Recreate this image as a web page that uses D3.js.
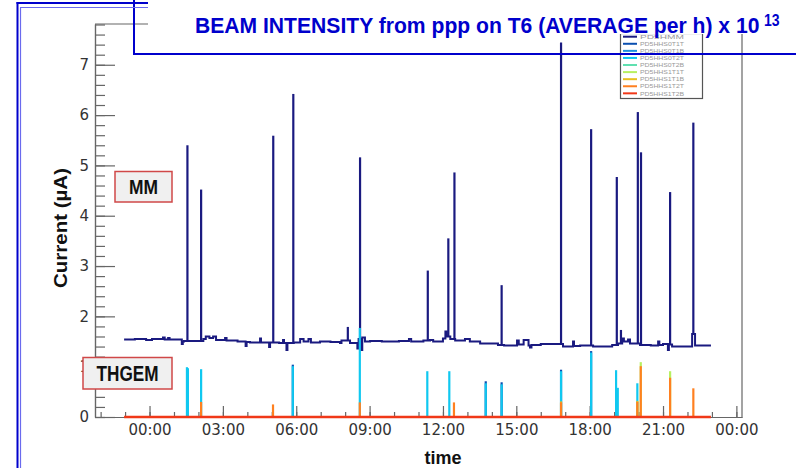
<!DOCTYPE html>
<html><head><meta charset="utf-8">
<script src="https://cdn.jsdelivr.net/npm/d3@7"></script>
<style>body{margin:0;background:#fff}svg{display:block}</style>
</head><body>
<svg id="c" width="796" height="468"></svg>
<script>
// ---- data (hours since 00:00, current in µA) ----
const mmBaseHours = [-1.04,-0.6,-0.14,0.1,0.55,0.62,0.76,0.82,1.32,1.36,1.41,2.2,2.3,2.45,2.6,2.72,3.09,3.15,3.6,3.93,3.97,4.11,4.52,4.56,4.89,4.93,5.3,5.46,5.5,5.6,5.64,5.9,6.16,6.3,6.5,6.6,6.97,7.4,7.79,7.85,8.2,8.5,8.55,8.62,8.7,8.81,9.02,9.5,10.2,10.61,10.7,11.2,11.47,11.6,12.0,12.1,12.16,12.3,12.5,12.9,13.1,13.52,14.25,14.5,15.03,15.1,15.3,15.5,15.56,15.62,16.0,16.38,16.91,17.32,17.36,17.61,18.14,18.92,19.16,19.33,19.4,19.57,19.65,20.06,20.5,20.8,20.85,21.0,21.2,21.24,21.37,22.19,22.31,22.96];
const mmBaseValues = [1.54,1.55,1.53,1.55,1.58,1.54,1.57,1.54,1.45,1.50,1.51,1.55,1.60,1.57,1.60,1.53,1.57,1.52,1.50,1.41,1.49,1.48,1.56,1.48,1.39,1.48,1.47,1.53,1.47,1.33,1.47,1.48,1.55,1.50,1.55,1.48,1.50,1.49,1.47,1.52,1.47,1.36,1.55,1.33,1.58,1.50,1.51,1.50,1.51,1.55,1.50,1.52,1.53,1.50,1.56,1.70,1.60,1.55,1.52,1.55,1.50,1.46,1.43,1.42,1.52,1.44,1.53,1.42,1.38,1.43,1.45,1.45,1.40,1.50,1.41,1.42,1.40,1.43,1.46,1.56,1.50,1.54,1.46,1.43,1.42,1.50,1.43,1.45,1.33,1.44,1.40,1.65,1.42,1.42];
const mmSpikeHours = [1.55,2.11,5.06,5.88,8.11,8.61,11.38,12.22,12.47,14.40,16.83,18.06,19.11,19.28,19.97,20.10,21.29,22.24];
const mmSpikeValues = [5.40,4.52,5.59,6.42,1.79,5.16,2.91,3.55,4.86,2.62,7.44,5.72,4.77,1.73,6.06,5.26,4.47,5.85];

const s0t1tHours = [5.86,13.75,14.40,16.83,18.06];
const s0t1tValues = [1.04,0.71,0.69,0.94,1.31];
const s0t2tHours = [1.53,1.57,2.11,5.86,8.60,11.36,12.26,13.75,14.40,16.83,18.06,19.08,19.15,19.95];
const s0t2tValues = [0.99,0.97,0.95,1.01,1.77,0.91,0.91,0.67,0.65,0.91,1.28,0.93,0.58,0.67];
const s1t1tHours = [20.09,21.29];
const s1t1tValues = [1.09,0.91];
const s1t1bHours = [16.83,19.95];
const s1t1bValues = [0.31,0.32];
const s1t2tHours = [2.11,5.05,8.60,12.45,16.83,19.95,20.09,21.29,22.24];
const s1t2tValues = [0.30,0.25,0.29,0.29,0.29,0.30,1.01,0.78,0.57];
const s1t2bHours = [-1.04,22.96];
const s1t2bValues = [0,0];

const xMajorHours = [0,3,6,9,12,15,18,21,24];
const xTickLabels = ["00:00","03:00","06:00","09:00","12:00","15:00","18:00","21:00","00:00"];
const xMinorHours = d3.range(-2,25,1);
const yMajorTicks = [0,1,2,3,4,5,6,7];
const yMinorTicks = d3.range(0,7.81,0.2);
const legendLabels = ["PD5HMM","PD5HHS0T1T","PD5HHS0T1B","PD5HHS0T2T","PD5HHS0T2B","PD5HHS1T1T","PD5HHS1T1B","PD5HHS1T2T","PD5HHS1T2B"];
const legendColors = ["#1a1a80","#0a4fb0","#1e90e0","#10c8f0","#60e0b0","#b8f060","#e8c020","#ff8020","#f03818"];

// ---- chart ----
const svg = d3.select("#c");
svg.append("rect").attr("width",796).attr("height",468).attr("fill","#fff");

const x = d3.scaleLinear().domain([-2.23,24.23]).range([95,742]);
const y = d3.scaleLinear().domain([0,7.81]).range([417,24]);

const axCol = "#666";
svg.append("line").attr("x1",95).attr("x2",742).attr("y1",24).attr("y2",24).attr("stroke",axCol).attr("stroke-width",1.2);
svg.append("line").attr("x1",742).attr("x2",742).attr("y1",24).attr("y2",417).attr("stroke",axCol).attr("stroke-width",1.2);

const xMinor = svg.append("g").attr("transform","translate(0,417)")
  .call(d3.axisBottom(x).tickValues(xMinorHours).tickSizeInner(-5).tickSizeOuter(0).tickFormat(""));
const xMajor = svg.append("g").attr("transform","translate(0,417)")
  .call(d3.axisBottom(x).tickValues(xMajorHours).tickSizeInner(-11).tickSizeOuter(0).tickPadding(7)
    .tickFormat((d,i)=>xTickLabels[i]));
const yMinor = svg.append("g").attr("transform","translate(95,0)")
  .call(d3.axisLeft(y).tickValues(yMinorTicks).tickSizeInner(-10).tickSizeOuter(0).tickFormat(""));
const yMajor = svg.append("g").attr("transform","translate(95,0)")
  .call(d3.axisLeft(y).tickValues(yMajorTicks).tickSizeInner(-20).tickSizeOuter(0).tickPadding(6).tickFormat(d3.format("d")));
[xMinor,xMajor,yMinor,yMajor].forEach(g=>{
  g.selectAll("path,line").attr("stroke",axCol).attr("stroke-width",1.2);
  g.selectAll("text").attr("fill","#333").attr("font-family","DejaVu Sans").attr("font-size",15);
});

// MM trace
const mmPts = mmBaseHours.map((h,i)=>[h,mmBaseValues[i]]);
svg.append("path").datum(mmPts)
  .attr("d",d3.line().x(d=>x(d[0])).y(d=>y(d[1])).curve(d3.curveStepAfter))
  .attr("fill","none").attr("stroke",legendColors[0]).attr("stroke-width",2);
const baseAt = h => mmBaseValues[Math.max(0,d3.bisectRight(mmBaseHours,h)-1)];
svg.append("g").selectAll("line").data(mmSpikeHours).join("line")
  .attr("x1",d=>x(d)).attr("x2",d=>x(d))
  .attr("y1",d=>y(baseAt(d))).attr("y2",(d,i)=>y(mmSpikeValues[i]))
  .attr("stroke",legendColors[0]).attr("stroke-width",2.2);

// THGEM spikes
function spikes(hours, values, color, w){
  svg.append("g").selectAll("line").data(hours).join("line")
    .attr("x1",d=>x(d)).attr("x2",d=>x(d))
    .attr("y1",y(0)).attr("y2",(d,i)=>y(values[i]))
    .attr("stroke",color).attr("stroke-width",w);
}
spikes(s0t1tHours,s0t1tValues,legendColors[1],2.2);
spikes(s0t2tHours,s0t2tValues,legendColors[3],2.2);
spikes(s1t1tHours,s1t1tValues,legendColors[5],2.2);
spikes(s1t1bHours,s1t1bValues,legendColors[6],2.2);
spikes(s1t2tHours,s1t2tValues,legendColors[7],2.2);
svg.append("line").attr("x1",x(s1t2bHours[0])).attr("x2",x(s1t2bHours[1]))
  .attr("y1",y(s1t2bValues[0])).attr("y2",y(s1t2bValues[1]))
  .attr("stroke",legendColors[8]).attr("stroke-width",2.5);

// axis titles
svg.append("text").attr("transform","translate(67,228) rotate(-90)").attr("text-anchor","middle")
  .attr("font-family","Liberation Sans, Arial").attr("font-weight","bold").attr("font-size",19)
  .attr("textLength",120).attr("lengthAdjust","spacingAndGlyphs").attr("fill","#111").text("Current (µA)");
svg.append("text").attr("x",443).attr("y",464).attr("text-anchor","middle")
  .attr("font-family","Liberation Sans, Arial").attr("font-weight","bold").attr("font-size",18)
  .attr("fill","#111").text("time");

// legend
const lg = svg.append("g");
lg.append("rect").attr("x",620.5).attr("y",33.5).attr("width",82).attr("height",65)
  .attr("fill","#fff").attr("stroke","#555").attr("stroke-width",1.2);
legendLabels.forEach((t,i)=>{
  const yy = 36.7 + i*7.08;
  lg.append("line").attr("x1",623).attr("x2",637).attr("y1",yy).attr("y2",yy)
    .attr("stroke",legendColors[i]).attr("stroke-width",2);
  lg.append("text").attr("x",640).attr("y",yy+2.2).attr("font-family","Liberation Sans, Arial")
    .attr("font-size",6).attr("textLength",44).attr("lengthAdjust","spacingAndGlyphs")
    .attr("fill","#999").text(t);
});

// MM / THGEM labels
function tag(x0,y0,w,h,t,tl,fs){
  svg.append("rect").attr("x",x0).attr("y",y0).attr("width",w).attr("height",h)
    .attr("fill","#f0f0f0").attr("stroke","#d04848").attr("stroke-width",1.5);
  svg.append("text").attr("x",x0+w/2).attr("y",y0+h/2+fs*0.36).attr("text-anchor","middle")
    .attr("font-family","Liberation Sans, Arial").attr("font-weight","bold").attr("font-size",fs)
    .attr("textLength",tl).attr("lengthAdjust","spacingAndGlyphs").attr("fill","#111").text(t);
}
tag(115,171.5,57,30.5,"MM",29,21);
tag(83,357.5,89,31.5,"THGEM",62,22);

// slide overlay: title box
svg.append("rect").attr("x",148).attr("y",0).attr("width",648).attr("height",34).attr("fill","#fff");
const title = svg.append("text").attr("x",0).attr("y",0).attr("font-family","Liberation Sans, Arial")
  .attr("font-weight","bold").attr("font-size",22).attr("fill","#0000cc")
  .text("BEAM INTENSITY from ppp on T6 (AVERAGE per h) x 10");
const natW = title.node().getComputedTextLength();
const fsT = 22*565/natW;
title.attr("font-size",fsT).attr("transform",`translate(195,33) scale(1,${22/fsT})`);
svg.append("text").attr("x",764).attr("y",26).attr("font-family","Liberation Sans, Arial")
  .attr("font-weight","bold").attr("font-size",14).attr("fill","#0000cc")
  .attr("transform","translate(764,26) scale(1,1.12) translate(-764,-26)").text("13");
const blue = "#0000cc";
svg.append("line").attr("x1",134).attr("x2",134).attr("y1",0).attr("y2",54).attr("stroke",blue).attr("stroke-width",2);
svg.append("line").attr("x1",133).attr("x2",796).attr("y1",54).attr("y2",54).attr("stroke",blue).attr("stroke-width",2);
svg.append("line").attr("x1",17.5).attr("x2",17.5).attr("y1",2).attr("y2",468).attr("stroke",blue).attr("stroke-width",2);
svg.append("line").attr("x1",16.5).attr("x2",148).attr("y1",3).attr("y2",3).attr("stroke",blue).attr("stroke-width",2);
svg.append("line").attr("x1",20.5).attr("x2",20.5).attr("y1",7.5).attr("y2",468).attr("stroke","#6a6aee").attr("stroke-width",1.2);
svg.append("line").attr("x1",20).attr("x2",148).attr("y1",7.5).attr("y2",7.5).attr("stroke","#6a6aee").attr("stroke-width",1.2);
</script>
</body></html>
